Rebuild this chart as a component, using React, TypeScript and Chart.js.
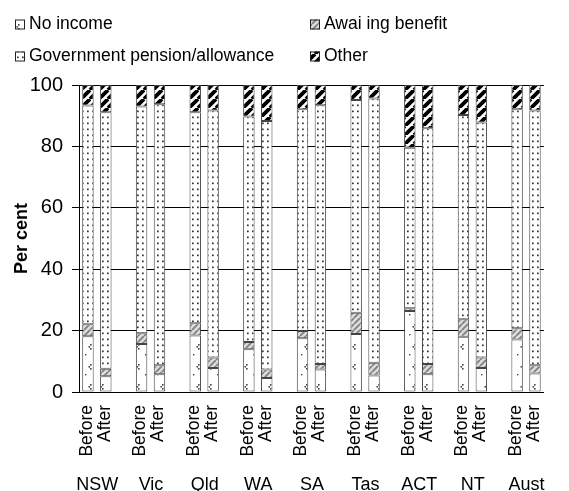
import React, { useEffect, useRef } from 'react';
import { Chart, registerables } from 'chart.js';

Chart.register(...registerables);

const states = ['NSW', 'Vic', 'Qld', 'WA', 'SA', 'Tas', 'ACT', 'NT', 'Aust'];
const periods = ['Before', 'After'];

const noIncomeBefore = [18.2, 15.6, 18.4, 13.9, 17.5, 18.9, 26.4, 18.0, 17.1];
const noIncomeAfter = [5.1, 5.8, 7.8, 4.6, 7.3, 5.4, 5.8, 7.8, 6.0];
const awaitingBefore = [3.9, 3.5, 4.0, 2.4, 2.4, 6.9, 0.9, 5.7, 3.7];
const awaitingAfter = [2.5, 2.9, 3.4, 2.7, 1.8, 4.1, 3.3, 3.4, 2.7];
const pensionBefore = [71.2, 73.9, 68.7, 73.4, 72.2, 69.3, 52.3, 66.5, 71.3];
const pensionAfter = [83.5, 85.0, 80.5, 81.0, 84.3, 86.1, 76.8, 76.6, 83.0];
const otherBefore = [6.7, 7.0, 8.9, 10.3, 7.9, 4.9, 20.4, 9.8, 7.9];
const otherAfter = [8.9, 6.3, 8.3, 11.7, 6.6, 4.4, 14.1, 12.2, 8.3];

const seriesNames = ['No income', 'Awai ing benefit', 'Government pension/allowance', 'Other'];
const yTicks = [0, 20, 40, 60, 80, 100];

const FONT = 'Arial, "Liberation Sans", Helvetica, sans-serif';

function makePattern(
  ctx: CanvasRenderingContext2D,
  w: number,
  h: number,
  bg: string,
  draw: (g: CanvasRenderingContext2D) => void
): CanvasPattern {
  const c = document.createElement('canvas');
  c.width = w;
  c.height = h;
  const g = c.getContext('2d') as CanvasRenderingContext2D;
  g.fillStyle = bg;
  g.fillRect(0, 0, w, h);
  draw(g);
  return ctx.createPattern(c, 'repeat') as CanvasPattern;
}

function diagonal(g: CanvasRenderingContext2D, s: number, color: string, width: number) {
  g.strokeStyle = color;
  g.lineWidth = width;
  g.beginPath();
  for (let k = -1; k <= 1; k++) {
    g.moveTo(k * s, s);
    g.lineTo(k * s + s, 0);
  }
  g.stroke();
}

export default function App() {
  const ref = useRef<HTMLCanvasElement>(null);

  useEffect(() => {
    const canvas = ref.current;
    if (!canvas) return;
    const ctx = canvas.getContext('2d') as CanvasRenderingContext2D;

    const patNoIncome = makePattern(ctx, 12, 20, '#ffffff', (g) => {
      g.fillStyle = '#444';
      g.fillRect(6, 4, 1.6, 1.6);
      g.fillRect(4.5, 6, 1.6, 1.6);
      g.fillRect(6, 8, 1.6, 1.6);
      g.fillRect(1, 14, 1.4, 1.4);
    });
    const patAwaiting = makePattern(ctx, 6, 6, '#dcdcdc', (g) => diagonal(g, 6, '#808080', 1.8));
    const patPension = makePattern(ctx, 5, 6, '#ffffff', (g) => {
      g.fillStyle = '#333';
      g.fillRect(2, 2.5, 1.7, 1.7);
    });
    const patOther = makePattern(ctx, 9, 9, '#ffffff', (g) => diagonal(g, 9, '#000', 3.8));
    const fills = [patNoIncome, patAwaiting, patPension, patOther];

    const xLabels: string[] = [];
    const stateLabels: string[] = [];
    states.forEach((s, i) => {
      if (i > 0) {
        xLabels.push('');
        stateLabels.push('');
      }
      xLabels.push(periods[0]);
      stateLabels.push(s);
      xLabels.push(periods[1]);
      stateLabels.push('');
    });
    const interleave = (b: number[], a: number[]) => {
      const out: (number | null)[] = [];
      states.forEach((_, i) => {
        if (i > 0) out.push(null);
        out.push(b[i]);
        out.push(a[i]);
      });
      return out;
    };
    const seriesData = [
      interleave(noIncomeBefore, noIncomeAfter),
      interleave(awaitingBefore, awaitingAfter),
      interleave(pensionBefore, pensionAfter),
      interleave(otherBefore, otherAfter),
    ];

    const legendPlugin = {
      id: 'customLegend',
      afterDraw(chart: any) {
        const c = chart.ctx as CanvasRenderingContext2D;
        const pos = [
          [15, 24.5],
          [310, 24.5],
          [15, 56.5],
          [310, 56.5],
        ];
        c.save();
        c.font = `17.5px ${FONT}`;
        c.textBaseline = 'middle';
        c.textAlign = 'left';
        seriesNames.forEach((name, i) => {
          const [x, y] = pos[i];
          c.fillStyle = fills[i];
          c.fillRect(x, y - 5, 10, 10);
          c.strokeStyle = '#222';
          c.lineWidth = 1;
          c.strokeRect(x + 0.5, y - 4.5, 9, 9);
          c.fillStyle = '#000';
          c.fillText(name, x + 14, y);
        });
        c.restore();
      },
    };

    const chart = new Chart(canvas, {
      type: 'bar',
      data: {
        labels: xLabels,
        datasets: seriesData.map((d, i) => ({
          label: seriesNames[i],
          data: d,
          backgroundColor: fills[i],
          borderColor: '#444',
          borderWidth: 1,
          borderSkipped: false,
          barPercentage: 0.64,
          categoryPercentage: 1,
          xAxisID: 'x',
          yAxisID: 'y',
        })),
      },
      options: {
        responsive: false,
        animation: false,
        devicePixelRatio: 1,
        layout: { padding: { top: 85, right: 1, left: 0, bottom: 0 } },
        plugins: {
          legend: { display: false },
          tooltip: { enabled: false },
        },
        scales: {
          x: {
            type: 'category',
            stacked: true,
            position: 'bottom',
            weight: 0,
            offset: true,
            grid: { display: false, drawTicks: false, tickLength: 0 },
            border: { display: true, color: '#000', width: 1 },
            ticks: {
              autoSkip: false,
              minRotation: 90,
              maxRotation: 90,
              padding: 13,
              labelOffset: -1,
              color: '#000',
              font: { family: FONT, size: 17.5 },
            },
            afterFit(scale: any) {
              scale.height = 70;
            },
          },
          x2: {
            type: 'category',
            labels: stateLabels,
            position: 'bottom',
            weight: 1,
            offset: true,
            grid: { display: false, drawTicks: false, tickLength: 0 },
            border: { display: false },
            ticks: {
              autoSkip: false,
              minRotation: 0,
              maxRotation: 0,
              padding: 12,
              labelOffset: 9.4,
              color: '#000',
              font: { family: FONT, size: 18 },
            },
            afterFit(scale: any) {
              scale.height = 29;
            },
          },
          y: {
            type: 'linear',
            stacked: true,
            min: 0,
            max: 100,
            afterBuildTicks(scale: any) {
              scale.ticks = yTicks.map((v) => ({ value: v }));
            },
            grid: { color: '#000', lineWidth: 1, tickLength: 7, drawTicks: true },
            border: { display: true, color: '#000', width: 1 },
            ticks: {
              padding: 9,
              color: '#000',
              font: { family: FONT, size: 20 },
            },
            title: {
              display: true,
              text: 'Per cent',
              color: '#000',
              font: { family: FONT, size: 18, weight: 'bold' },
              padding: { top: 11, bottom: 0 },
            },
            afterFit(scale: any) {
              scale.width = 79;
            },
          },
        },
      },
      plugins: [legendPlugin],
    } as any);

    return () => chart.destroy();
  }, []);

  return (
    <div style={{ position: 'absolute', left: 0, top: 0, width: 569, height: 491, background: '#fff' }}>
      <canvas ref={ref} width={569} height={491} style={{ width: 569, height: 491, display: 'block' }} />
    </div>
  );
}
